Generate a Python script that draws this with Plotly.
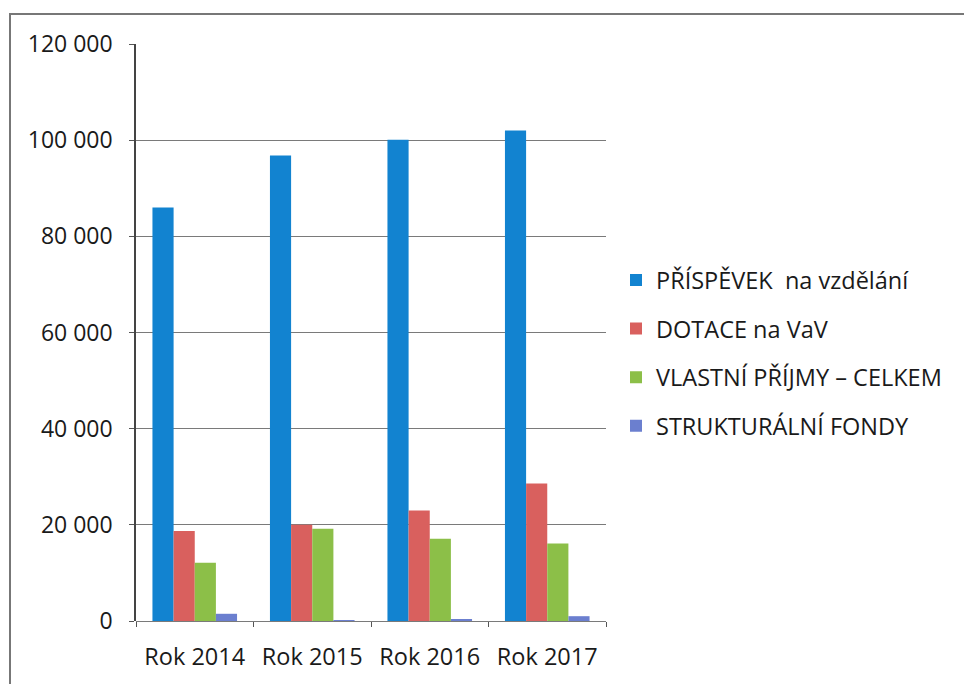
import plotly.graph_objects as go

categories = ["Rok 2014", "Rok 2015", "Rok 2016", "Rok 2017"]
series_names = ["PŘÍSPĚVEK  na vzdělání", "DOTACE na VaV", "VLASTNÍ PŘÍJMY – CELKEM", "STRUKTURÁLNÍ FONDY"]
prispevek = [86000, 96800, 100100, 102000]
dotace = [18700, 20000, 23000, 28600]
vlastni = [12100, 19200, 17100, 16100]
strukturalni = [1500, 200, 300, 1000]
colors = ["#1283d0", "#d9605e", "#8cbf48", "#6b7fcf"]
y_ticks = [0, 20000, 40000, 60000, 80000, 100000, 120000]

# page has an 8px body margin: work in figure coordinates (page - 8)
OFF = 8
W, H = 972 - OFF, 684 - OFF
L, R, T, B = 136 - OFF, 606 - OFF, 44 - OFF, 623 - OFF

def px_x(p):
    return (p - OFF - L) / (R - L)

def px_y(p):
    return (B - (p - OFF)) / (B - T)

fig = go.Figure()
for i, (name, vals) in enumerate(zip(series_names, [prispevek, dotace, vlastni, strukturalni])):
    fig.add_trace(go.Bar(x=categories, y=vals, name=name, marker_color=colors[i],
                         marker_line_width=0, legendgroup=f"g{i}"))

fam = "Open Sans, Liberation Sans, sans-serif"
font = dict(family=fam, size=23, color="#1a1a1a")

fig.update_layout(
    width=W, height=H,
    margin=dict(l=L, r=W - R, t=T, b=H - B),
    paper_bgcolor="white", plot_bgcolor="white",
    font=font,
    separators=", ",
    barmode="group", bargap=0.28, bargroupgap=0,
    showlegend=True,
    legend=dict(x=px_x(616), xanchor="left", y=px_y(259), yanchor="top",
                traceorder="grouped", tracegroupgap=15, itemwidth=30,
                font=dict(family=fam, size=23.5, color="#1a1a1a"),
                bgcolor="rgba(0,0,0,0)"),
    xaxis=dict(showline=False, ticks="outside", tickson="boundaries", ticklen=5,
               tickcolor="#555", showgrid=False, ticklabelstandoff=19,
               tickfont=dict(size=23.5)),
    yaxis=dict(range=[0, 120000], tickvals=y_ticks, tickformat=",d",
               showline=True, linecolor="#444", linewidth=1.5,
               ticks="outside", ticklen=5, tickcolor="#555",
               showgrid=True, gridcolor="#7a7a7a", gridwidth=1,
               zeroline=True, zerolinecolor="#7a7a7a", zerolinewidth=1,
               ticklabelstandoff=12),
    shapes=[dict(type="rect", xref="paper", yref="paper",
                 x0=px_x(10), x1=px_x(1000), y0=px_y(720), y1=px_y(14),
                 line=dict(color="#777", width=2), fillcolor="rgba(0,0,0,0)", layer="below")],
)

fig.write_html("out.html")
